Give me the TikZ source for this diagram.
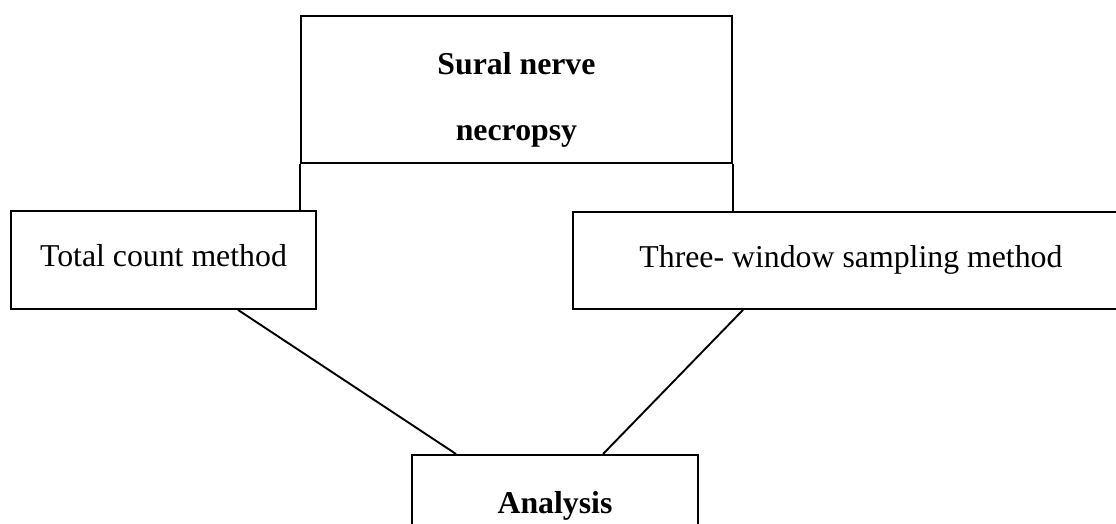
\documentclass[tikz,border=0pt]{standalone}
\usepackage{fontspec}
\setmainfont{Liberation Serif}
\begin{document}
\begin{tikzpicture}[x=1pt,y=-1pt,
  box/.style={draw, line width=1.9pt, inner sep=0pt, anchor=north west},
  regtext/.style={font=\fontsize{31.8}{38}\selectfont},
  boldtext/.style={font=\bfseries\fontsize{31.8}{66}\selectfont},
  conn/.style={line width=1.9pt}]
\useasboundingbox (0,0) rectangle (1116,523);
\clip (0,0) rectangle (1116,523);
\node[box, boldtext, align=center, minimum width=431pt, minimum height=147pt] (top) at (300,15)
  {\rule{0pt}{59pt}Sural nerve\\necropsy\rule[-22pt]{0pt}{22pt}};
\node[box, regtext, minimum width=305pt, minimum height=98pt, text height=30pt, text depth=16pt] (left) at (10,210) {Total count method};
\node[box, regtext, minimum width=556pt, minimum height=97pt, text height=30pt, text depth=16pt] (right) at (572,211) {Three- window sampling method};
\node[box, boldtext, anchor=north, minimum width=286pt, text height=59pt, text depth=30pt] (ana) at (555,454) {Analysis};
\draw[conn] (top.south west) -- (top.south west |- left.north);
\draw[conn] (top.south east) -- (top.south east |- right.north);
\coordinate (l1) at ([xshift=228pt]left.south west);
\coordinate (a1) at ([xshift=45pt]ana.north west);
\coordinate (r1) at ([xshift=171pt]right.south west);
\coordinate (a2) at ([xshift=192pt]ana.north west);
\draw[conn] (l1) -- (a1);
\draw[conn] (r1) -- (a2);
\end{tikzpicture}
\end{document}
